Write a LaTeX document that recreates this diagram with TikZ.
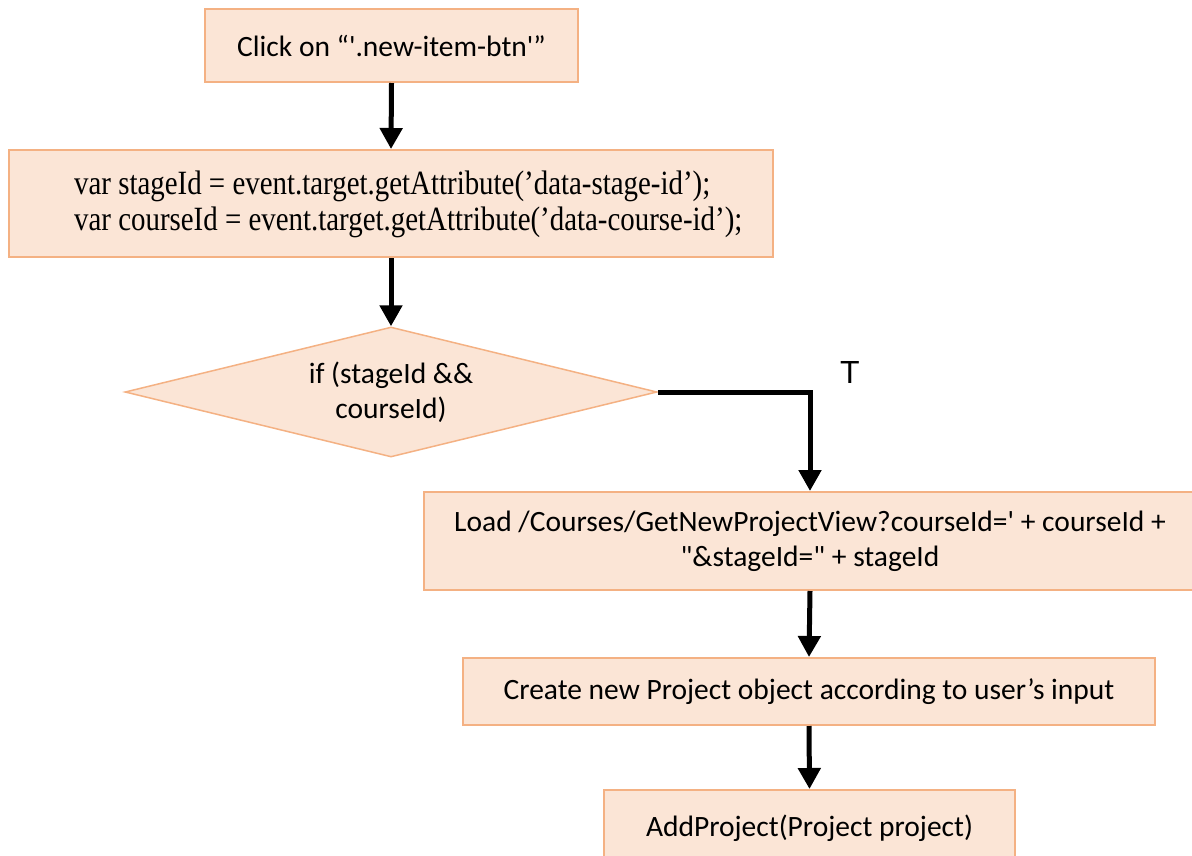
\documentclass[tikz,border=0pt]{standalone}
\usepackage{fontspec}
\newfontfamily\calfont{Carlito}
\newfontfamily\tnrfont{Liberation Serif}[FakeStretch=0.85]
\newfontfamily\arfont{Liberation Sans}
\usetikzlibrary{shapes.geometric,arrows.meta}
\definecolor{boxfill}{RGB}{251,229,214}
\definecolor{boxline}{RGB}{244,177,131}
\tikzset{
  procbox/.style={draw=boxline, fill=boxfill, line width=2pt, rectangle, inner sep=0pt, align=center, font=\calfont\fontsize{29.5}{35}\selectfont},
  decbox/.style={draw=boxline, fill=boxfill, line width=1.5pt, diamond, aspect=4.1, inner sep=0pt, align=center, font=\calfont\fontsize{29.5}{35}\selectfont},
  flow/.style={line width=5pt, -{Triangle[length=21pt,width=22pt]}}
}
\begin{document}
\begin{tikzpicture}[x=1pt,y=-1pt]
\useasboundingbox (0,0) rectangle (1192,855);
\clip (0,0) rectangle (1192,855);
\node[procbox, minimum width=373pt, minimum height=73pt] (b1) at (391.5,45.5) {Click on “'.new-item-btn'”};
\node[procbox, minimum width=764pt, minimum height=107pt] (b2) at (391,203.5) {};
\node[anchor=west, align=left, inner sep=0pt, font=\tnrfont\fontsize{34}{36}\selectfont] (t2) at (74,204) {var stageId = event.target.getAttribute(’data-stage-id’);\\var courseId = event.target.getAttribute(’data-course-id’);};
\node[decbox, minimum width=532pt, minimum height=130pt] (d) at (391,392) {if (stageId \&\&\\courseId)};
\node[procbox, minimum width=772pt, minimum height=98pt] (b3) at (810,541) {Load /Courses/GetNewProjectView?courseId=' + courseId +\\"\&stageId=" + stageId};
\node[procbox, minimum width=692pt, minimum height=67pt] (b4) at (809,691.5) {Create new Project object according to user’s input};
\node[procbox, minimum width=411pt, minimum height=76pt] (b5) at (809.5,828) {AddProject(Project project)};
\node[font=\arfont\fontsize{32}{36}\selectfont, inner sep=0pt] (tl) at (850,372) {T};
\draw[flow] (b1.south) -- (b2.north);
\draw[flow] (b2.south) -- (d.north);
\draw[flow] (d.east) -| (b3.north);
\draw[flow] (b3.south) -- (b4.north);
\draw[flow] (b4.south) -- (b5.north);
\end{tikzpicture}
\end{document}
